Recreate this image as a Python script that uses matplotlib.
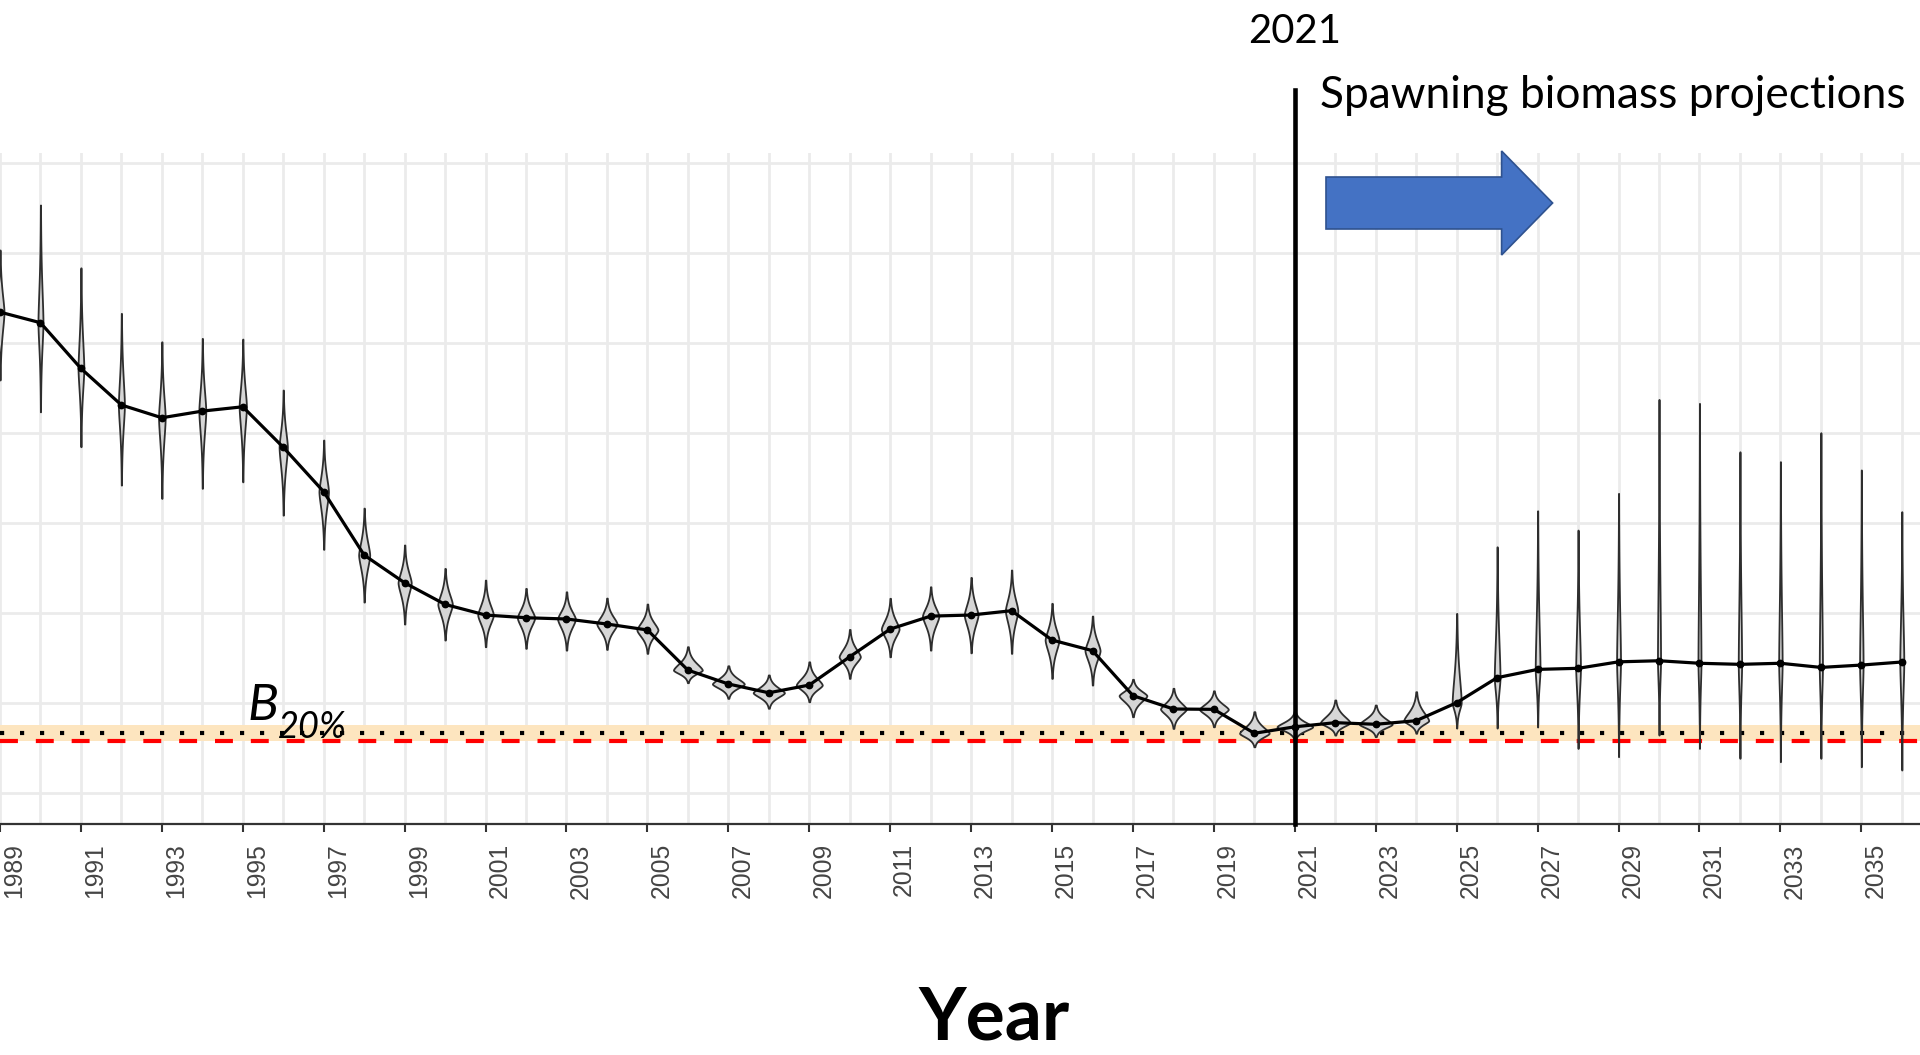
import numpy as np
import matplotlib
matplotlib.use("Agg")
import matplotlib.pyplot as plt
from matplotlib.patches import Polygon
import matplotlib.transforms as mtransforms

# ---------------- data ----------------
years = list(range(1989, 2037))
median = [267.2, 261.3, 235.9, 215.6, 208.5, 212.2, 214.6, 192.1, 167.4, 132.2,
          116.8, 104.8, 98.9, 97.4, 96.7, 93.9, 90.6, 68.3, 60.6, 55.7,
          60.0, 75.7, 91.1, 98.3, 98.9, 101.3, 85.0, 79.1, 54.1, 46.7,
          46.5, 33.2, 36.8, 39.1, 38.2, 40.2, 50.2, 64.1, 68.7, 69.3,
          72.9, 73.5, 72.1, 71.5, 72.1, 69.8, 71.1, 72.8]
upper = [301.7, 326.7, 291.8, 266.5, 250.7, 252.6, 252.2, 223.9, 196.1, 158.3,
         137.8, 124.8, 118.3, 113.7, 111.8, 108.3, 105.0, 81.3, 70.7, 65.6,
         72.9, 90.9, 108.2, 114.6, 119.8, 123.9, 105.4, 98.3, 63.2, 58.2,
         56.8, 45.2, 45.6, 51.7, 48.9, 56.3, 99.8, 136.8, 156.8, 146.1,
         166.5, 218.7, 216.5, 189.6, 184.1, 200.2, 179.5, 156.3]
lower = [229.5, 211.8, 192.4, 171.1, 163.7, 169.3, 172.9, 154.4, 135.4, 106.1,
         93.9, 85.0, 81.3, 80.4, 79.4, 79.8, 77.6, 61.3, 52.6, 47.1,
         50.7, 63.7, 75.7, 79.4, 77.9, 77.6, 63.7, 60.0, 42.4, 35.9,
         36.8, 25.7, 29.4, 32.2, 31.3, 33.2, 36.1, 36.1, 36.7, 24.8,
         20.2, 32.2, 24.8, 19.3, 17.4, 19.3, 14.6, 12.8]
b20 = 33.2          # B20% reference (dotted)
blim = 29.0         # red dashed limit
band_lo, band_hi = 29.0, 37.8
proj_year = 2021
tick_years = list(range(1989, 2036, 2))
grid_vals = [0, 50, 100, 150, 200, 250, 300, 350]

W, H = 1920, 1055
fig = plt.figure(figsize=(W / 100, H / 100), dpi=100)
ax = fig.add_axes([0, 1 - 824 / H, 1, (824 - 153) / H])
ax.set_xlim(1989.10, 2036.45)
ax.set_ylim(-17.2, 355.6)

# grid
ax.set_yticks(grid_vals)
ax.set_xticks(tick_years)
ax.set_xticks(years, minor=True)
ax.grid(True, which="major", color="#ebebeb", lw=2.0)
ax.grid(True, which="minor", axis="x", color="#ebebeb", lw=2.0)
ax.set_axisbelow(True)
ax.tick_params(axis="y", left=False, labelleft=False)
ax.tick_params(axis="x", which="minor", length=0)
ax.tick_params(axis="x", which="major", length=5.8, width=1.5, color="#333333",
               pad=8)
for s in ("left", "right", "top"):
    ax.spines[s].set_visible(False)
ax.spines["bottom"].set_color("#333333")
ax.spines["bottom"].set_linewidth(1.6)
ax.set_xticklabels([str(y) for y in tick_years], rotation=90, ha="left",
                   va="top", fontsize=17.8, color="#444444",
                   family="Liberation Sans")
off = mtransforms.ScaledTranslation(2 / 100, 0, fig.dpi_scale_trans)
for lab in ax.get_xticklabels():
    lab.set_transform(lab.get_transform() + off)

# reference band and lines
ax.axhspan(band_lo, band_hi, color="#fde5bf", zorder=1, lw=0)
ax.axhline(blim, color="#ff0000", lw=3.0, dashes=(4.3, 4.3), zorder=2)
ax.axhline(b20, color="black", lw=3.0, dashes=(1.0, 3.8), zorder=2)

# violins (two-piece profile, equal-area scaling)
shapes = []
for lo, md, hi in zip(lower, median, upper):
    yy = np.concatenate([np.linspace(lo, md, 150), np.linspace(md, hi, 150)[1:]])
    u = np.where(yy < md, (md - yy) / (md - lo), (yy - md) / (hi - md))
    f = np.exp(-3.4 * u ** 1.55)
    f = f / np.trapezoid(f, yy)
    shapes.append((yy, f))
maxd = max(f.max() for _, f in shapes)
scale = 0.44 / maxd
for yr, (yy, f) in zip(years, shapes):
    hw = f * scale
    ax.fill_betweenx(yy, yr - hw, yr + hw, facecolor="#d6d6d6",
                     edgecolor="#2e2e2e", lw=1.3, zorder=3)

ax.plot(years, median, color="black", lw=2.3, zorder=4)
ax.plot(years, median, "o", color="black", ms=4.6, zorder=5)

# projection start line
ax.axvline(proj_year, ymin=0, ymax=(824 - 90) / (824 - 153), clip_on=False,
           color="black", lw=3.3, zorder=6)

# arrow (figure pixel geometry)
arrow_px = [(1326, 177), (1501.6, 177), (1501.6, 151), (1552.6, 203),
            (1501.6, 255), (1501.6, 229), (1326, 229)]
arrow = Polygon([(x / W, 1 - y / H) for x, y in arrow_px], closed=True,
                transform=fig.transFigure, facecolor="#4472c4",
                edgecolor="#2f528f", lw=1.2, zorder=10)
fig.patches.append(arrow)

renderer = fig.canvas.get_renderer()


def fit_text(x, y, s, target_w, **kw):
    t = fig.text(x / W, 1 - y / H, s, va="baseline", **kw)
    w = t.get_window_extent(renderer).width
    t.set_fontsize(t.get_fontsize() * target_w / w)
    return t


fit_text(1294.5, 42.7, "2021", 93, ha="center", family="Lato", fontsize=28)
fit_text(1320, 108.3, "Spawning biomass projections", 585, ha="left",
         family="Lato", fontsize=28)
fit_text(994, 1040, "Year", 152, ha="center", family="Lato",
         fontweight="bold", fontsize=50)
fig.text(247 / W, 1 - 720 / H, "B", va="baseline", ha="left", family="Lato",
         style="italic", fontsize=37)
fig.text(278 / W, 1 - 738 / H, "20%", va="baseline", ha="left", family="Lato",
         style="italic", fontsize=26)

fig.savefig("out.png", dpi=100)
